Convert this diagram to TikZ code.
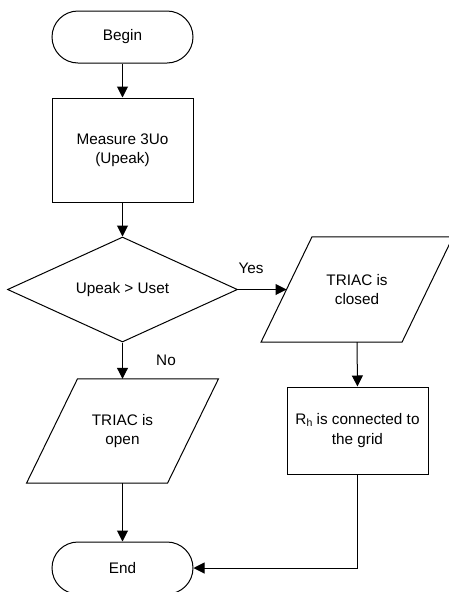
\documentclass[tikz,border=0pt]{standalone}
\usepackage{fontspec}
\setmainfont{Liberation Sans}
\usetikzlibrary{arrows.meta,shapes.geometric}
\begin{document}
\begin{tikzpicture}[x=1pt,y=-1pt,
  every node/.style={font=\fontsize{15.3}{19.5}\selectfont, align=center, inner sep=0pt},
  line/.style={line width=1pt, draw=black},
  arr/.style={line, -{Triangle[length=11pt,width=11pt]}},
  term/.style={line, rectangle, rounded corners=26pt, minimum width=141pt, minimum height=52pt},
  proc/.style={line, rectangle},
  dec/.style={line, diamond, minimum width=230pt, minimum height=105pt, aspect=2.19},
  holder/.style={rectangle, minimum width=90pt, minimum height=105pt},
  lbl/.style={font=\fontsize{15.3}{18}\selectfont}
]
\useasboundingbox (0,0) rectangle (448,592);
\fill[white] (0,0) rectangle (448,592);

\node[term] (begin) at (122.5,37) {Begin};
\node[proc, minimum width=141pt, minimum height=104pt] (meas) at (122.5,150) {Measure 3Uo\\(Upeak)};
\node[dec] (dec) at (122.5,289.5) {Upeak > Uset};

% TRIAC is closed (parallelogram)
\node[holder] (closed) at (357,289.5) {TRIAC is\\closed};
\draw[line] ([xshift=-45pt]closed.north) -- ([xshift=96pt]closed.north)
  -- ([xshift=45pt]closed.south) -- ([xshift=-96pt]closed.south) -- cycle;
\coordinate (closedW) at ([xshift=-70.5pt]closed.center);

\node[proc, minimum width=141pt, minimum height=87pt] (rh) at (357.5,430.5)
  {R\raisebox{-1.5pt}{\fontsize{10.5}{10.5}\selectfont h} is connected to\\the grid};

% TRIAC is open (parallelogram)
\node[holder, minimum height=104pt] (open) at (122.5,431) {TRIAC is\\open};
\draw[line] ([xshift=-45pt]open.north) -- ([xshift=96pt]open.north)
  -- ([xshift=45pt]open.south) -- ([xshift=-96pt]open.south) -- cycle;

\node[term] (end) at (122.5,568) {End};

\draw[arr] (begin.south) -- (meas.north);
\draw[arr] (meas.south) -- (dec.north);
\draw[arr] (dec.east) -- (closedW);
\draw[arr] (dec.south) -- (open.north);
\draw[arr] (closed.south) -- (rh.north);
\draw[arr] (open.south) -- (end.north);
\draw[arr] (rh.south) |- (end.east);

\node[lbl] (yes) at (251,268) {Yes};
\node[lbl] (no) at (166,360) {No};
\end{tikzpicture}
\end{document}
